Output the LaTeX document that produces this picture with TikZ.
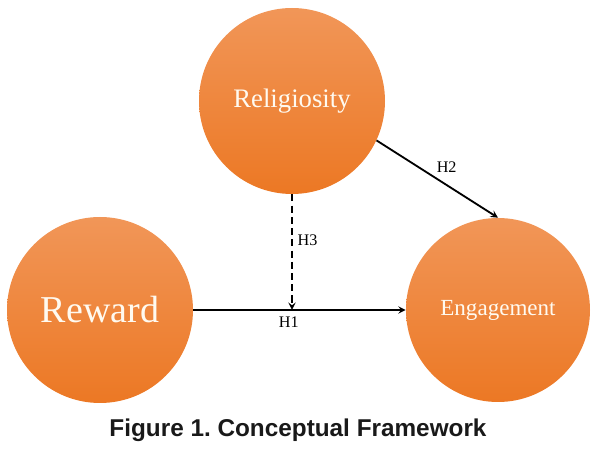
\documentclass[tikz,border=0pt]{standalone}
\usepackage{fontspec}
\setmainfont{Liberation Serif}
\setsansfont{Liberation Sans}
\usetikzlibrary{shapes,arrows,positioning,calc}

\definecolor{orangetop}{RGB}{241,150,88}
\definecolor{orangebot}{RGB}{236,120,36}
\definecolor{cream}{RGB}{255,250,240}

\frenchspacing
\begin{document}
\begin{tikzpicture}[
    construct/.style={circle, minimum size=4.65cm, inner sep=0pt, top color=orangetop, bottom color=orangebot, text=cream},
    edge/.style={-stealth, line width=1.3pt, draw=black},
    hyp/.style={font=\fontsize{11.5}{13}\selectfont},
    caption/.style={font=\sffamily\bfseries\fontsize{17.3}{20}\selectfont, text=black!90},
]

\useasboundingbox (0, 0) rectangle (15.025, -11.35);

% Constructs
\node[construct, font=\fontsize{19}{22}\selectfont] (relig) at (7.3, -2.525) {Religiosity};
\node[construct, font=\fontsize{27}{30}\selectfont] (reward) at (2.5, -7.75) {Reward};
\node[construct, minimum size=4.6cm, font=\fontsize{16.4}{19}\selectfont] (engage) at (12.45, -7.75) {Engagement};

% Moderation point
\coordinate (modpt) at (relig.south |- reward.east);

% Edges
\draw[edge] (reward.east) -- node[hyp, below=1pt, pos=0.45] (h1) {H1} (engage.west);
\draw[edge] (relig.-25) -- node[hyp, above right=-2pt and 0pt, pos=0.45] (h2) {H2} (engage.north);
\draw[edge, dashed, dash pattern=on 5pt off 3pt] (relig.south) -- node[hyp, right=0pt, pos=0.4] (h3) {H3} (modpt);

% Caption
\node[caption] (cap) at (7.45, -10.75) {Figure 1. Conceptual Framework};

\end{tikzpicture}
\end{document}
